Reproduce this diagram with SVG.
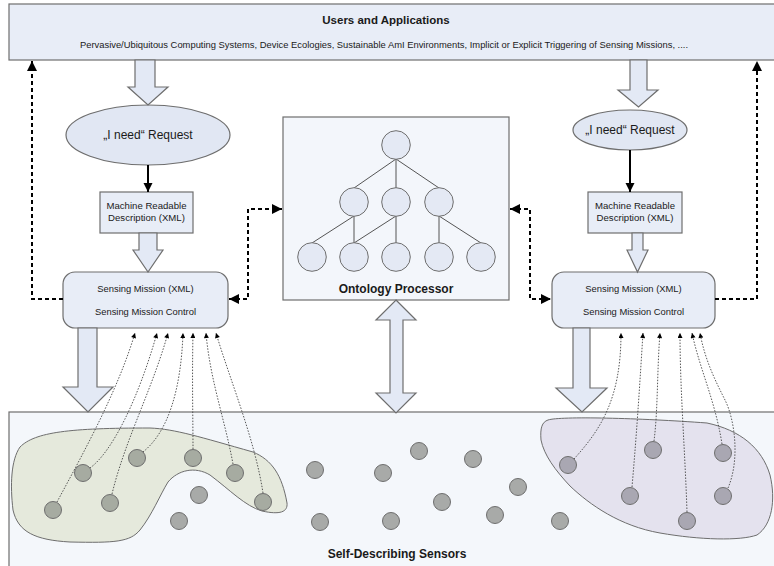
<svg xmlns="http://www.w3.org/2000/svg" width="774" height="566" viewBox="0 0 774 566">
<defs>
<style>
.box{fill:#e8edf7;stroke:#6e6e6e;stroke-width:1.2}
.ell{fill:#e1e7f3;stroke:#6e6e6e;stroke-width:1.2}
.hollow{fill:#e3e9f5;stroke:#6e6e6e;stroke-width:1.2;stroke-linejoin:miter}
.tc{fill:#e4e9f4;stroke:#6e6e6e;stroke-width:1}
.tl{stroke:#555;stroke-width:1;fill:none}
.sg{fill:#a8aaa8;stroke:#6e6e6e;stroke-width:1}
.sgr{fill:#a6aba1;stroke:#6e6e6e;stroke-width:1}
.spu{fill:#a9a7b2;stroke:#6e6e6e;stroke-width:1}
.dash{fill:none;stroke:#000;stroke-width:2;stroke-dasharray:4 3}
.dot{fill:none;stroke:#444;stroke-width:0.9;stroke-dasharray:1.5 1.5}
text{font-family:"Liberation Sans",Arial,sans-serif;fill:#1a1a1a;text-anchor:middle}
.b{font-weight:bold}
</style>
<marker id="big" viewBox="0 0 10 10" refX="10" refY="5" markerWidth="10" markerHeight="10" markerUnits="userSpaceOnUse" orient="auto-start-reverse"><path d="M0,0 L10,5 L0,10 z" fill="#000"/></marker>
<marker id="sm" viewBox="0 0 10 10" refX="10" refY="5" markerWidth="6" markerHeight="5" markerUnits="userSpaceOnUse" orient="auto"><path d="M0,0 L10,5 L0,10 z" fill="#000"/></marker>
<marker id="solid" viewBox="0 0 10 10" refX="10" refY="5" markerWidth="9" markerHeight="10" markerUnits="userSpaceOnUse" orient="auto"><path d="M0,0 L10,5 L0,10 z" fill="#000"/></marker>
</defs>

<g id="users">
<rect x="9" y="4" width="770" height="56" class="box" fill="#e9eef8"/>
<text x="386" y="24" class="b" font-size="11.5">Users and Applications</text>
<text x="384" y="48" font-size="9.4">Pervasive/Ubiquitous Computing Systems, Device Ecologies, Sustainable AmI Environments, Implicit or Explicit Triggering of Sensing Missions, ....</text>
</g>

<g id="sensors">
<rect x="9" y="412" width="780" height="170" fill="#f4f7fb" stroke="#6e6e6e" stroke-width="1.2"/>
<path d="M20,447 C35,432 70,428 150,428 C175,429 200,437 253,452 C272,460 282,475 287,503 C288,512 280,515 262,511 C245,506 230,490 210,475 C195,466 178,470 168,482 C160,495 152,515 140,530 C130,542 115,543 70,542 C35,540 18,532 13,510 C10,485 11,460 20,447 Z" fill="#e5e9dc" stroke="#6e6e6e" stroke-width="1"/>
<path d="M548,420 C560,416 640,418 707,423 C740,430 762,448 770,475 C776,500 772,525 757,535 C740,541 700,540 660,533 C620,526 590,505 570,486 C555,470 544,455 541,440 C540,428 542,422 548,420 Z" fill="#e4e2ee" stroke="#6e6e6e" stroke-width="1"/>
<text x="397" y="558" class="b" font-size="12">Self-Describing Sensors</text>
</g>

<g id="sensor-nodes">
<circle cx="53" cy="510" r="8.5" class="sgr"/>
<circle cx="83" cy="473" r="8.5" class="sgr"/>
<circle cx="110" cy="503" r="8.5" class="sgr"/>
<circle cx="137" cy="458" r="8.5" class="sgr"/>
<circle cx="193" cy="458" r="8.5" class="sgr"/>
<circle cx="235" cy="473" r="8.5" class="sgr"/>
<circle cx="263" cy="502" r="8.5" class="sgr"/>
<circle cx="199" cy="495" r="8.5" class="sg"/>
<circle cx="179" cy="521" r="8.5" class="sg"/>
<circle cx="315" cy="470" r="8.5" class="sg"/>
<circle cx="320" cy="522" r="8.5" class="sg"/>
<circle cx="383" cy="473" r="8.5" class="sg"/>
<circle cx="391" cy="521" r="8.5" class="sg"/>
<circle cx="419" cy="451" r="8.5" class="sg"/>
<circle cx="442" cy="502" r="8.5" class="sg"/>
<circle cx="473" cy="459" r="8.5" class="sg"/>
<circle cx="495" cy="515" r="8.5" class="sg"/>
<circle cx="518" cy="487" r="8.5" class="sg"/>
<circle cx="560" cy="521" r="8.5" class="sg"/>
<circle cx="568" cy="465" r="8.5" class="spu"/>
<circle cx="653" cy="450" r="8.5" class="spu"/>
<circle cx="723" cy="453" r="8.5" class="spu"/>
<circle cx="630" cy="496" r="8.5" class="spu"/>
<circle cx="723" cy="496" r="8.5" class="spu"/>
<circle cx="687" cy="521" r="8.5" class="spu"/>
</g>

<g id="ontology">
<rect x="283" y="117" width="226" height="183" fill="#f3f6fb" stroke="#6e6e6e" stroke-width="1.2"/>
<g class="tl">
<line x1="396" y1="159" x2="354" y2="188"/>
<line x1="396" y1="159" x2="396" y2="188"/>
<line x1="396" y1="159" x2="439" y2="188"/>
<line x1="354" y1="216" x2="312" y2="243"/>
<line x1="354" y1="216" x2="354" y2="243"/>
<line x1="396" y1="216" x2="354" y2="243"/>
<line x1="396" y1="216" x2="396" y2="243"/>
<line x1="439" y1="216" x2="439" y2="243"/>
<line x1="439" y1="216" x2="481" y2="243"/>
</g>
<circle cx="396" cy="145" r="14.3" class="tc"/>
<circle cx="354" cy="202" r="14.3" class="tc"/>
<circle cx="396" cy="202" r="14.3" class="tc"/>
<circle cx="439" cy="202" r="14.3" class="tc"/>
<circle cx="312" cy="257" r="14.3" class="tc"/>
<circle cx="354" cy="257" r="14.3" class="tc"/>
<circle cx="396" cy="257" r="14.3" class="tc"/>
<circle cx="439" cy="257" r="14.3" class="tc"/>
<circle cx="481" cy="257" r="14.3" class="tc"/>
<text x="396" y="293" class="b" font-size="12">Ontology Processor</text>
</g>

<g id="request-left">
<ellipse cx="148" cy="135" rx="82" ry="30" class="ell"/>
<text x="148" y="139" font-size="12">„I need“ Request</text>
</g>
<g id="xml-left">
<rect x="100" y="192" width="93" height="41" class="box"/>
<text x="146.5" y="209" font-size="9.6">Machine Readable</text>
<text x="146.5" y="221" font-size="9.6">Description (XML)</text>
</g>
<g id="mission-left">
<rect x="63" y="272" width="165" height="56" rx="12" class="box"/>
<text x="145.5" y="292" font-size="9.4">Sensing Mission (XML)</text>
<text x="145.5" y="315" font-size="9.4">Sensing Mission Control</text>
</g>

<g id="request-right">
<ellipse cx="630" cy="130" rx="57" ry="20" class="ell"/>
<text x="630" y="134" font-size="12">„I need“ Request</text>
</g>
<g id="xml-right">
<rect x="588" y="192" width="94" height="41" class="box"/>
<text x="635" y="209" font-size="9.6">Machine Readable</text>
<text x="635" y="221" font-size="9.6">Description (XML)</text>
</g>
<g id="mission-right">
<rect x="552" y="272" width="163" height="56" rx="12" class="box"/>
<text x="633.5" y="292" font-size="9.4">Sensing Mission (XML)</text>
<text x="633.5" y="315" font-size="9.4">Sensing Mission Control</text>
</g>

<g id="connectors">
<!-- hollow arrows -->
<path class="hollow" d="M135,60 H155 V87 H168 L148,105 L128,87 H135 Z"/>
<path class="hollow" d="M139,233 H157 V250 H163 L148,272 L133,250 H139 Z"/>
<path class="hollow" d="M630,60 H647 V90 H658 L638.5,107 L618,90 H630 Z"/>
<path class="hollow" d="M632,233 H643 V250 H648 L637.5,272 L627,250 H632 Z"/>
<path class="hollow" d="M78,328 H97 V387 H113 L88,412 L63,387 H78 Z"/>
<path class="hollow" d="M573,328 H590 V388 H607 L582,412 L556,388 H573 Z"/>
<path class="hollow" d="M396,300 L416,320 H403 V393 H416 L396,413 L376,393 H390 V320 H376 Z"/>
<!-- solid arrows -->
<line x1="148" y1="165" x2="148" y2="192" stroke="#000" stroke-width="2" marker-end="url(#solid)"/>
<line x1="630" y1="150" x2="630" y2="192" stroke="#000" stroke-width="2" marker-end="url(#solid)"/>
<!-- dashed -->
<path class="dash" d="M63,299 H32 V61" marker-end="url(#big)"/>
<path class="dash" d="M229,299 H248 V209 H282" marker-start="url(#big)" marker-end="url(#big)"/>
<path class="dash" d="M510,209 H530 V299 H551" marker-start="url(#big)" marker-end="url(#big)"/>
<path class="dash" d="M715,299 H757 V61" marker-end="url(#big)"/>
<!-- dotted sensor links left -->
<path class="dot" d="M57,502 C85,450 118,390 135,333" marker-end="url(#sm)"/>
<path class="dot" d="M90,468 C112,452 138,400 157,333" marker-end="url(#sm)"/>
<path class="dot" d="M112,494 C125,440 152,390 168,333" marker-end="url(#sm)"/>
<path class="dot" d="M143,452 C168,432 181,390 183,333" marker-end="url(#sm)"/>
<path class="dot" d="M193,449 C193,420 192,380 193,333" marker-end="url(#sm)"/>
<path class="dot" d="M233,464 C225,420 210,380 206,333" marker-end="url(#sm)"/>
<path class="dot" d="M263,493 C255,440 230,380 216,333" marker-end="url(#sm)"/>
<!-- dotted sensor links right -->
<path class="dot" d="M574,459 C600,430 621,400 621,333" marker-end="url(#sm)"/>
<path class="dot" d="M632,487 C637,430 640,380 643,333" marker-end="url(#sm)"/>
<path class="dot" d="M654,441 C658,410 657,370 660,333" marker-end="url(#sm)"/>
<path class="dot" d="M687,512 C685,450 680,390 680,333" marker-end="url(#sm)"/>
<path class="dot" d="M722,444 C715,400 700,370 692,333" marker-end="url(#sm)"/>
<path class="dot" d="M728,488 C740,460 735,420 725,400 C715,380 705,360 700,333" marker-end="url(#sm)"/>
</g>
</svg>
